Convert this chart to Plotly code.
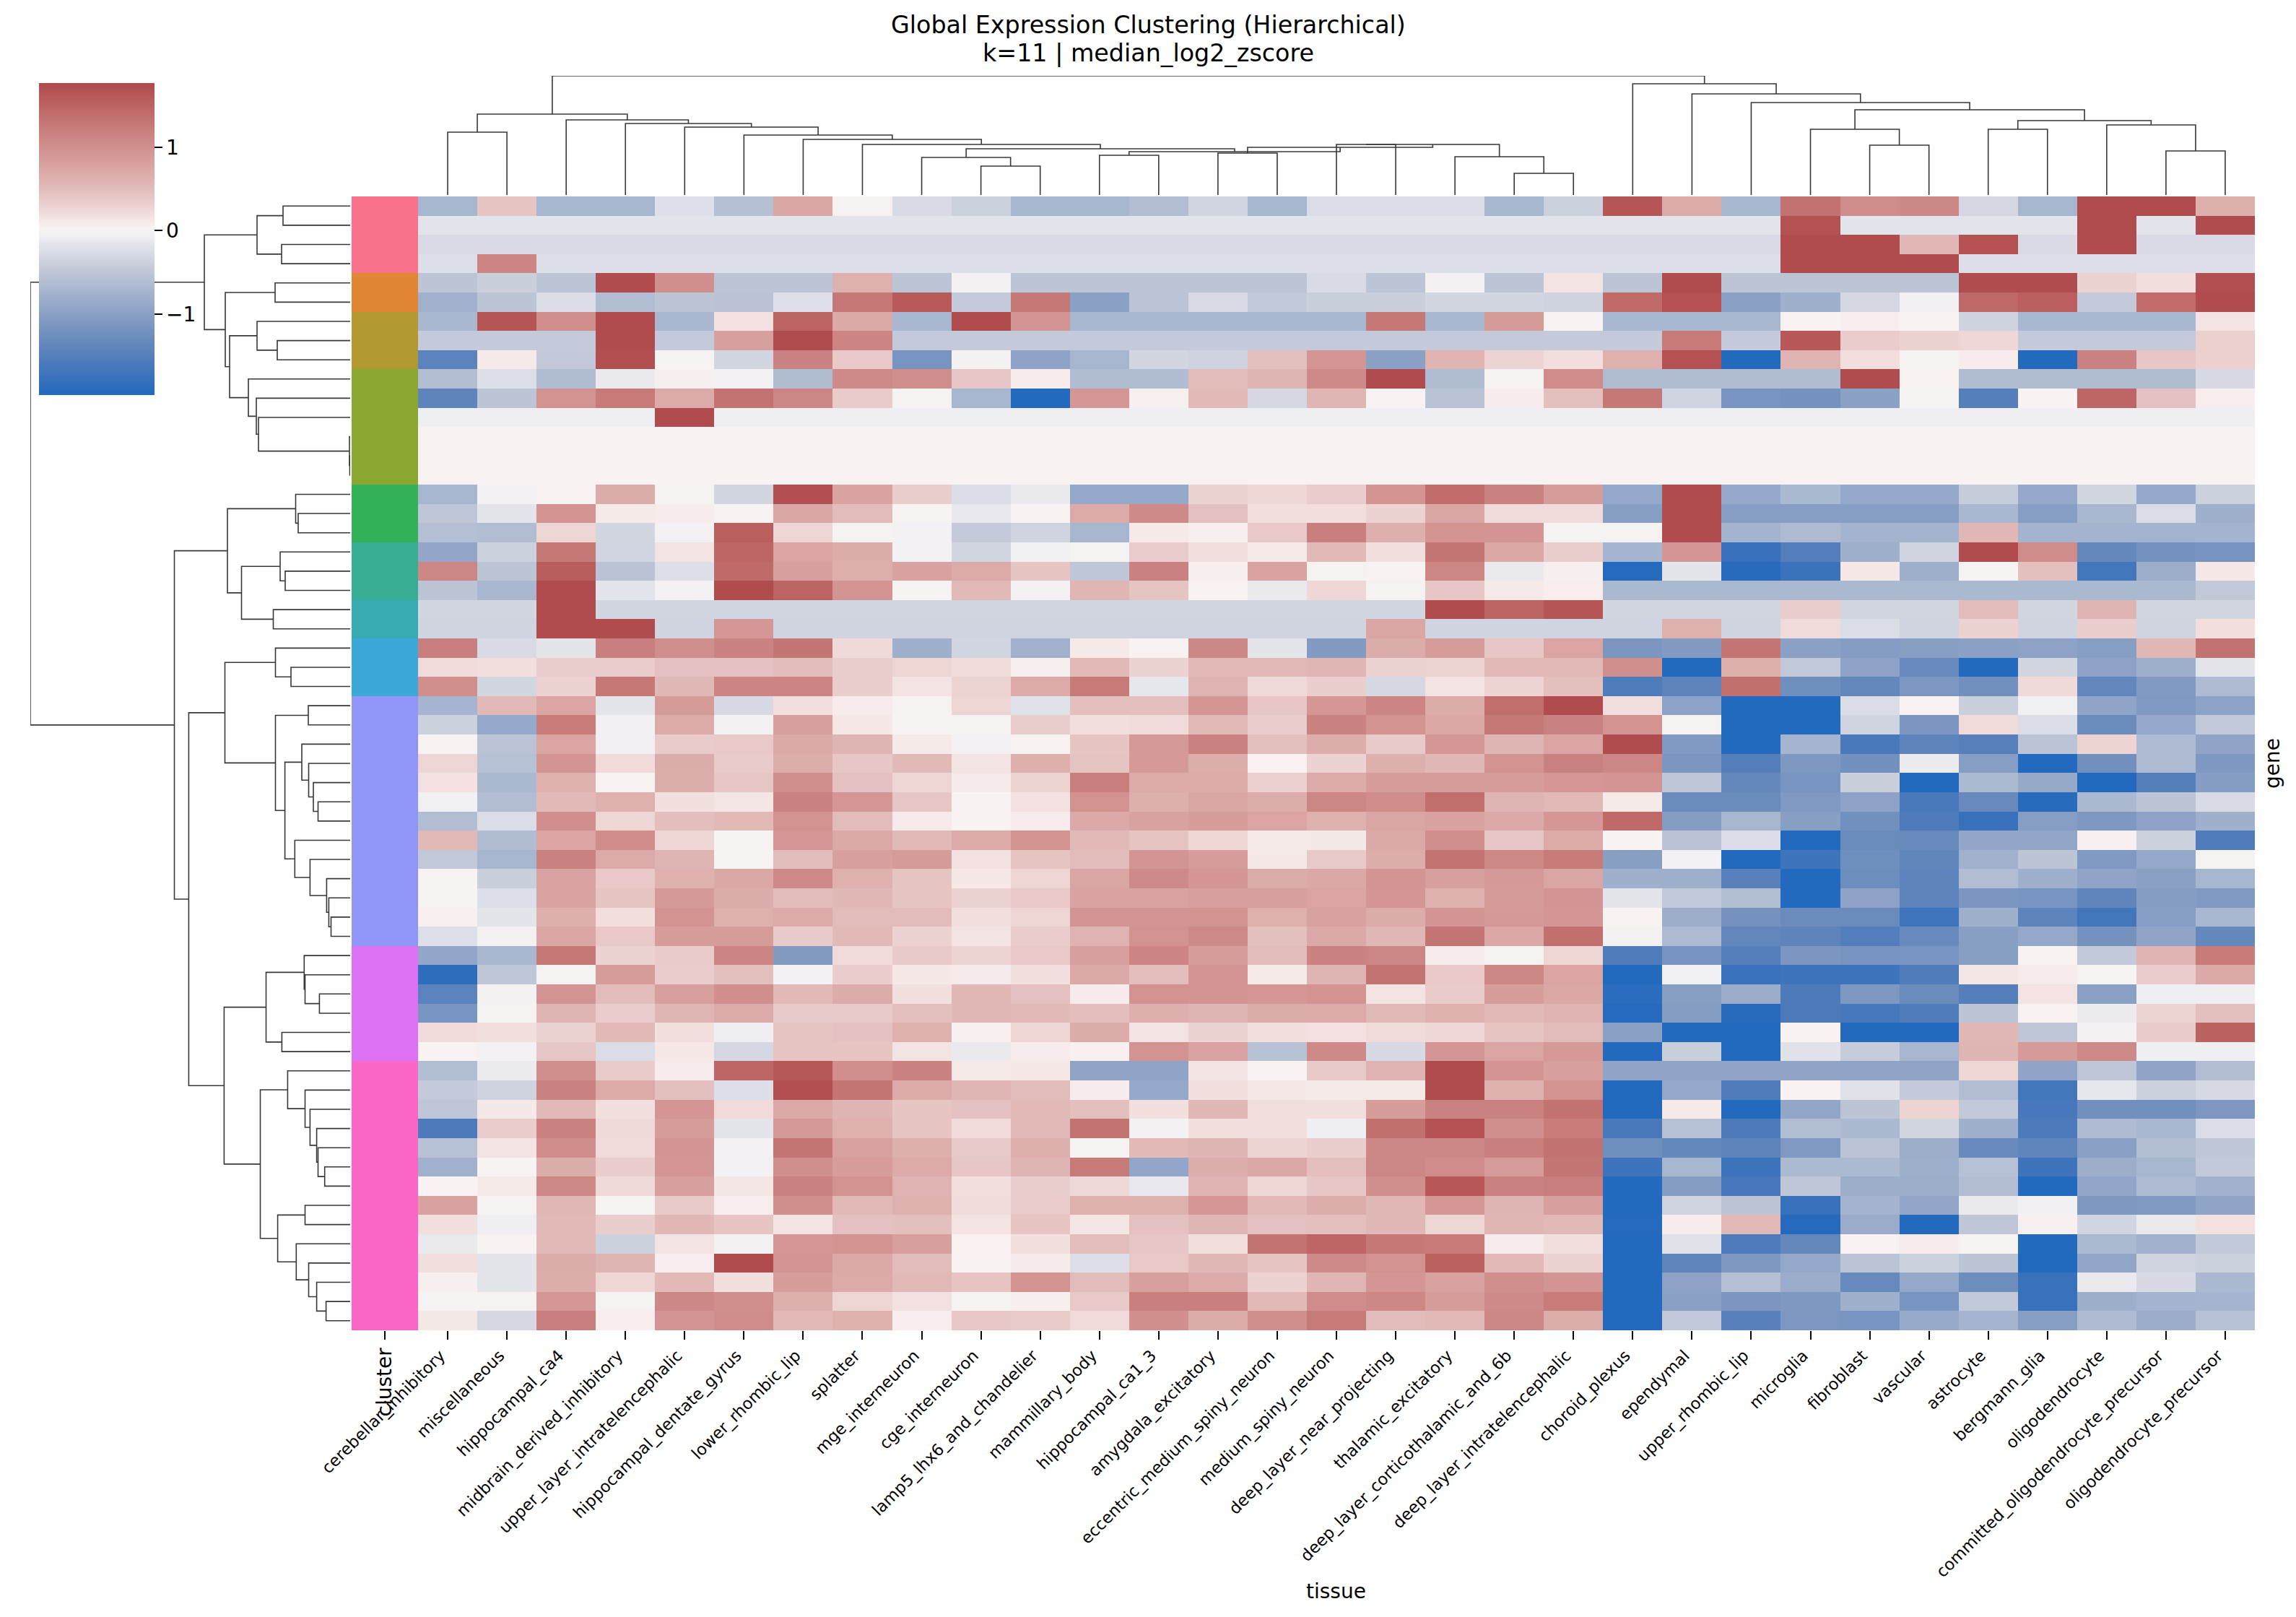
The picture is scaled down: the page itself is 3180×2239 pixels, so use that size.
import plotly.graph_objects as go

W, H = 3180, 2239

tissues = ["cerebellar_inhibitory", "miscellaneous", "hippocampal_ca4", "midbrain_derived_inhibitory",
           "upper_layer_intratelencephalic", "hippocampal_dentate_gyrus", "lower_rhombic_lip", "splatter",
           "mge_interneuron", "cge_interneuron", "lamp5_lhx6_and_chandelier", "mammillary_body",
           "hippocampal_ca1_3", "amygdala_excitatory", "eccentric_medium_spiny_neuron", "medium_spiny_neuron",
           "deep_layer_near_projecting", "thalamic_excitatory", "deep_layer_corticothalamic_and_6b",
           "deep_layer_intratelencephalic", "choroid_plexus", "ependymal", "upper_rhombic_lip", "microglia",
           "fibroblast", "vascular", "astrocyte", "bergmann_glia", "oligodendrocyte",
           "committed_oligodendrocyte_precursor", "oligodendrocyte_precursor"]

# Genes per cluster, top to bottom, and the colour of each cluster's strip
cluster_sizes = [4, 2, 3, 6, 3, 3, 2, 3, 13, 6, 14]
cluster_colors = ["#F9728C", "#E08531", "#B29831", "#8CA632", "#31B257", "#37AE93",
                  "#38ABB2", "#3BA8D8", "#8F96F5", "#DB72F3", "#F966C6"]

# Median log2 z-scores, one list per gene in dendrogram order
zscores = [
    [-.72, .42, -.72, -.72, -.22, -.58, .75, 0, -.27, -.38, -.72, -.72, -.62, -.33, -.72, -.25, -.25, -.25, -.72, -.38, 1.65, .7, -.72, 1.35, 1.05, 1.1, -.3, -.72, 1.75, 1.75, .65],
    [-.18] * 23 + [1.68] + [-.18] * 4 + [1.75, -.18, 1.75],
    [-.27] * 23 + [1.75, 1.75, .55, 1.68, -.27, 1.75, -.27, -.27],
    [-.23, 1.13] + [-.23] * 21 + [1.75, 1.75, 1.75] + [-.23] * 5,
    [-.52, -.4, -.52, 1.75, 1.0, -.52, -.52, .62, -.52, -.02, -.52, -.52, -.52, -.52, -.52, -.27, -.52, -.02, -.52, .15, -.52, 1.75, -.52, -.52, -.52, -.52, 1.75, 1.75, .3, .2, 1.72],
    [-.78, -.52, -.25, -.63, -.52, -.55, -.22, 1.27, 1.6, -.45, 1.27, -1.0, -.53, -.27, -.47, -.4, -.4, -.32, -.32, -.36, 1.42, 1.7, -1.0, -.8, -.3, -.04, 1.45, 1.55, -.45, 1.4, 1.75],
    [-.7, 1.65, 1.02, 1.75, -.7, .17, 1.5, .72, -.7, 1.75, .95, -.7, -.7, -.7, -.7, -.7, 1.27, -.7, .88, .03, -.7, -.7, -.7, .03, .07, .03, -.36, -.7, -.7, -.7, .15],
    [-.45, -.45, -.45, 1.75, -.45, .82, 1.75, 1.13, -.45, -.45] + [-.45] * 11 + [1.25, -.45, 1.63, .35, .3, .25, -.45, -.45, -.45, .32],
    [-1.45, .1, -.46, 1.72, .01, -.32, 1.15, .38, -1.17, -.02, -.97, -.72, -.32, -.37, .47, .93, -1.0, .6, .28, .2, .62, 1.7, -1.97, .6, .2, -.01, .08, -1.97, 1.17, .4, .32],
    [-.62, -.23, -.64, -.12, .06, -.03, -.64, 1.07, 1.02, .4, .08, -.64, -.64, .5, .58, 1.07, 1.75, -.64, 0, 1.05, -.64, -.64, -.64, -.64, 1.75, .03, -.64, -.64, -.64, -.64, -.28],
    [-1.42, -.52, .98, 1.25, .7, 1.33, 1.12, .36, 0, -.72, -1.97, .92, .05, .52, -.3, .57, .02, -.55, .08, .47, 1.27, -.35, -1.17, -1.2, -1.0, -.01, -1.5, .02, 1.47, .45, .07],
    [-.07] * 4 + [1.75] + [-.07] * 26,
    [.02] * 31,
    [.02] * 31,
    [.02] * 31,
    [-.72, -.03, .02, .68, -.01, -.32, 1.72, .78, .33, -.24, -.12, -.9, -.9, .3, .26, .35, .97, 1.4, 1.17, .87, -.9, 1.75, -.9, -.68, -.9, -.9, -.43, -.9, -.32, -.9, -.38],
    [-.5, -.17, .97, .1, .08, .02, .75, .5, .01, -.13, .02, .7, 1.07, .45, .2, .2, .3, .75, .22, .22, -1.02, 1.75, -1.03, -1.03, -1.03, -1.03, -.7, -1.03, -.7, -.25, -.8],
    [-.6, -.63, .27, -.32, -.03, 1.55, .27, -.01, -.03, -.45, -.35, -.72, .1, .06, .38, 1.2, .65, .97, .95, -.01, -.01, 1.75, -.75, -.66, -.75, -.75, .56, -.75, -.75, -.75, -.75],
    [-.93, -.38, 1.27, -.33, .15, 1.47, .77, .68, -.03, -.32, -.06, -.01, .35, .2, .1, .53, .2, 1.3, .73, .33, -.73, .93, -1.78, -1.52, -.8, -.34, 1.75, 1.05, -1.35, -1.2, -1.18],
    [1.1, -.52, 1.57, -.55, -.23, 1.42, .83, .66, .8, .7, .42, -.5, 1.17, .06, .78, -.01, .02, 1.12, -.12, .06, -1.95, -.17, -1.92, -1.75, .12, -.8, -.01, .47, -1.68, -.82, .12],
    [-.52, -.7, 1.75, -.18, -.03, 1.75, 1.5, .95, .01, .52, -.02, .57, .43, .03, -.12, .25, 0, .4, .1, .07] + [-.68] * 10 + [-.48],
    [-.32, -.32, 1.75] + [-.32] * 14 + [1.75, 1.5, 1.65] + [-.32] * 3 + [.33, -.32, -.32, .5, -.32, .58, -.32, -.32],
    [-.35, -.35, 1.75, 1.75, -.35, .92] + [-.35] * 10 + [.75] + [-.35] * 4 + [.62, -.35, .22, -.25, -.35, .3, -.35, .33, -.35, .2],
    [1.2, -.27, -.17, 1.2, 1.03, 1.15, 1.3, .23, -.8, -.33, -.78, .1, .03, 1.1, -.17, -1.07, .68, .87, .4, .77, -1.15, -1.07, 1.3, -1.0, -1.05, -1.02, -1.0, -.97, -1.03, .55, 1.35],
    [.22, .2, .33, .35, .45, .45, .5, .33, .27, .22, .06, .53, .3, .53, .53, .57, .3, .28, .52, .52, 1.02, -1.97, .65, -.48, -.97, -1.33, -1.97, -.32, -.97, -.8, -.17],
    [1.03, -.32, .3, 1.28, .55, 1.13, 1.13, .33, .15, .28, .7, 1.25, -.15, .6, .23, .33, -.3, .15, .28, .47, -1.55, -1.42, 1.37, -1.25, -1.35, -1.13, -1.23, .23, -1.37, -1.08, -.65],
    [-.73, .53, .77, -.17, .88, -.28, .2, .08, 0, .27, -.2, .47, .47, .93, .4, .92, 1.13, .68, 1.38, 1.75, .2, -.98, -1.97, -1.97, -.25, .02, -.4, -.06, -.95, -1.1, -.98],
    [-.38, -.9, 1.22, -.04, .7, -.02, .82, .12, .01, 0, .33, .2, .22, .52, .35, 1.15, .97, .73, 1.27, 1.17, .97, 0, -1.97, -1.97, -.35, -1.15, .22, -.25, -1.3, -.9, -.48],
    [.02, -.53, .77, -.04, .36, .38, .72, .58, .1, -.03, .03, .42, .9, 1.17, .47, .67, .37, .92, .58, .77, 1.75, -1.08, -1.97, -.73, -1.6, -1.42, -1.48, -.53, .28, -.65, -.95],
    [.27, -.57, .95, .22, .68, .36, .67, .4, .53, .16, .65, .43, .9, .67, .04, .3, .65, .55, .98, 1.18, 1.12, -1.15, -1.5, -1.12, -1.22, -.09, -1.03, -1.97, -1.23, -.65, -1.12],
    [.17, -.68, .63, .02, .67, .4, 1.02, .45, .26, .09, .28, 1.2, .7, .7, .32, .7, .87, .87, .85, .92, .95, -.5, -1.35, -1.17, -.4, -1.97, -.67, -.88, -1.97, -1.5, -1.05],
    [-.05, -.62, .53, .63, .18, .13, 1.15, .92, .4, .02, .17, .98, .65, .75, .67, 1.12, 1.05, 1.38, .58, .52, .1, -1.3, -1.3, -1.1, -.97, -1.6, -1.33, -1.93, -.68, -.52, -.27],
    [-.62, -.25, 1.03, .27, .48, .53, .98, .5, .09, .03, .08, .72, .8, .85, .77, .62, .75, .8, .72, .92, 1.43, -1.05, -.72, -1.02, -1.23, -1.57, -1.78, -1.03, -1.12, -.97, -.8],
    [.53, -.64, .77, 1.05, .26, .01, .92, .72, .53, .7, .97, .53, .43, .26, .1, .11, .72, 1.03, .4, .7, .02, -.55, -.24, -1.97, -1.3, -1.33, -.93, -.93, .05, -.38, -1.55],
    [-.48, -.72, 1.17, .7, .58, .01, .5, .82, .88, .17, .43, .5, .95, .87, .12, .37, .67, 1.33, 1.08, 1.25, -1.02, -.03, -1.97, -1.72, -1.25, -1.38, -.78, -.52, -1.1, -.9, -.01],
    [.01, -.4, .78, .38, .62, .73, 1.07, .62, .43, .12, .27, .75, 1.07, .93, .68, .73, .95, .82, .9, .75, -.8, -.8, -1.47, -1.97, -1.27, -1.42, -.62, -.8, -.95, -1.0, -.72],
    [.01, -.23, .78, .42, .9, .68, .5, .55, .42, .3, .38, .78, .78, .83, .82, .77, .93, .63, .88, .95, -.17, -.48, -.63, -1.97, -.97, -1.43, -1.15, -1.17, -1.4, -1.05, -1.1],
    [.05, -.17, .65, .2, .97, .63, .7, .5, .5, .2, .27, .95, .95, .97, .62, .8, .68, .95, .9, .93, .03, -.82, -1.2, -1.3, -1.3, -1.7, -.8, -1.42, -1.68, -1.03, -.7],
    [-.22, -.02, .75, .38, .85, .87, .37, .53, .3, .16, .35, .6, .98, 1.07, .47, .72, .55, 1.32, .73, 1.37, -.02, -.66, -1.37, -1.42, -1.52, -1.32, -1.02, -.9, -1.2, -.95, -1.35],
    [-.93, -.7, 1.28, .3, .36, 1.13, -1.07, .22, .37, .28, .38, .83, 1.13, .85, .5, 1.15, 1.12, .08, 0, .27, -1.55, -1.18, -1.5, -1.15, -1.18, -1.17, -1.02, .03, -.47, .6, 1.23],
    [-1.87, -.5, 0, .85, .35, .47, -.03, .34, .12, .09, .18, .72, .48, .95, .1, .58, 1.33, .38, 1.12, .77, -1.97, -.05, -1.77, -1.72, -1.72, -1.55, .13, .08, .01, .34, .72],
    [-1.45, -.02, .95, .5, .82, 1.0, .52, .68, .18, .55, .45, .09, .98, .97, .92, .97, .15, .36, .85, .73, -1.9, -1.02, -.85, -1.58, -1.12, -1.3, -1.5, .15, -1.0, -.07, -.07],
    [-1.17, -.01, .58, .35, .57, .7, .37, .37, .47, .55, .53, .48, .65, .58, .68, .7, .53, .63, .53, .6, -1.95, -1.05, -1.92, -1.58, -1.63, -1.55, -.52, .03, -.1, .28, .47],
    [.22, .18, .3, .52, .2, -.07, .42, .45, .63, .05, .27, .68, .15, .3, .2, .17, .22, .25, .43, .5, -1.0, -1.97, -1.97, .03, -1.97, -1.97, .55, -.5, -.02, .36, 1.52],
    [.03, -.03, .4, -.25, .12, -.3, .43, .42, .15, -.12, .08, .05, .97, .78, -.56, 1.07, -.28, .93, .77, .9, -1.97, -.4, -1.97, -.2, -.43, -.72, .58, .88, 1.07, -.07, -.07],
    [-.63, -.1, 1.03, .36, .08, 1.47, 1.62, 1.03, 1.15, .1, .12, -.95, -.95, .15, .03, .37, .6, 1.75, .95, .82, -.95, -.95, -.95, -.95, -.95, -.95, .26, -.95, -.5, -.95, -.62],
    [-.45, -.37, 1.15, .7, .47, -.23, 1.72, 1.3, .7, .57, .5, .08, -.9, .2, .12, .1, .1, 1.75, .62, .98, -1.97, -.9, -1.55, .02, -.2, -.45, -.62, -1.68, -.15, -.38, -.28],
    [-.5, .11, .53, .18, .93, .22, .72, .58, .42, .45, .53, .47, .18, .56, .2, .2, .85, 1.17, 1.17, 1.35, -1.97, .1, -1.97, -.93, -.52, .28, -.48, -1.62, -1.23, -1.23, -1.13],
    [-1.58, .35, 1.15, .23, .85, -.17, .9, .63, .42, .22, .52, 1.33, -.02, .18, .2, -.07, 1.37, 1.67, 1.03, 1.22, -1.6, -.57, -1.58, -.63, -.68, -.32, -.8, -1.58, -.65, -.72, -.25],
    [-.57, .15, 1.05, .22, .95, -.03, 1.3, .8, .65, .37, .65, .01, .52, .58, .28, .33, 1.1, 1.1, 1.2, 1.35, -1.25, -1.35, -1.43, -1.1, -.53, -.82, -1.32, -1.4, -1.0, -.63, -.5],
    [-.78, .01, .68, .33, .93, -.03, 1.03, .85, .7, .4, .58, 1.25, -.93, .67, .73, .47, 1.12, 1.05, .87, 1.3, -1.72, -.72, -1.72, -.67, -.67, -.8, -.57, -1.72, -.82, -.72, -.47],
    [.02, .1, 1.08, .23, .82, .13, 1.17, .98, .6, .2, .33, .24, -.13, .6, .26, .4, 1.03, 1.63, 1.17, 1.2, -1.97, -1.05, -1.62, -.5, -.82, -.82, -.62, -1.97, -.93, -.66, -.77],
    [.8, 0, .56, .01, .37, .07, 1.0, .53, .63, .22, .35, .62, .63, .92, .53, .67, .55, .92, .58, .83, -1.97, -.35, -.52, -1.78, -.75, -.93, -.12, -.04, -1.12, -1.1, -.95],
    [.18, -.07, .52, .33, .55, .42, .16, .45, .47, .15, .42, .13, .45, .57, .45, .47, .55, .26, .57, .53, -1.95, .08, .53, -1.95, -.85, -1.97, -.5, .05, -.33, -.12, .17],
    [-.12, .03, .53, -.38, .16, -.02, .92, .97, .82, .04, .18, .48, .4, .2, 1.33, 1.48, 1.28, 1.23, .08, .2, -1.97, -.2, -1.57, -1.35, .02, .08, 0, -1.97, -.67, -.78, -.47],
    [.19, -.17, .68, .58, .07, 1.75, .95, .72, .5, .03, .09, -.23, .38, .55, .42, 1.07, .98, 1.52, .53, .3, -1.97, -1.4, -1.12, -.9, -.53, -.38, -.52, -1.97, -.92, -.35, -.38],
    [.06, -.17, .67, .26, .53, .18, .85, .7, .53, .42, .97, .5, .82, .7, .3, .57, .93, .8, 1.03, .95, -1.97, -.97, -.6, -.83, -1.33, -.9, -1.27, -1.77, -.12, -.28, -.68],
    [-.01, 0, .92, -.01, 1.1, 1.03, .65, .27, .17, .01, .06, .38, 1.2, 1.2, .53, 1.05, 1.1, .85, 1.07, 1.22, -1.97, -1.0, -1.15, -1.12, -.8, -1.17, -.47, -1.77, -.82, -.75, -.73],
    [.11, -.3, 1.2, .07, .95, 1.05, .52, .62, .07, .39, .36, .22, 1.0, .68, 1.0, 1.25, .5, .53, 1.12, .67, -1.97, -.48, -1.47, -1.13, -1.17, -.87, -.73, -1.03, -.65, -.85, -.57],
]

# Linkage trees as (distance, left, right); integers are leaf positions
gene_tree = (4.43,
    (2.02,
        (1.29, (.93, 0, 1), (.95, 2, 3)),
        (1.73, (1.04, 4, 5),
            (1.67, (1.29, 6, (1.01, 7, 8)),
                (1.41, 9, (1.30, 10, (1.27, 11, (.01, 12, (.005, 13, 14)))))))),
    (2.435,
        (1.70, (.755, 15, (.72, 16, 17)),
            (1.505, (.97, 18, (.90, 19, 20)), (1.065, 21, 22))),
        (2.236,
            (1.735, (1.035, 23, (.82, 24, 25)),
                (1.035, (.58, 26, 27),
                    (.904, (.67, 28, (.575, 29, (.51, 30, (.445, 31, 32)))),
                        (.767, 33, (.556, 34, (.326, 35, (.296, 36, (.265, 37, 38)))))))),
            (1.746,
                (1.165, (.637, 39, (.625, 40, (.426, 41, 42))), (.946, 43, 44)),
                (1.245,
                    (.866, 45, (.625, 46, (.556, 47, (.464, 48, (.445, 49, (.353, 50, 51)))))),
                    (1.004, (.625, 52, 53),
                        (.747, 54, (.575, 55, (.464, 56, (.334, 57, 58))))))))))

tissue_tree = (1.65,
    (1.12, (.87, 0, 1),
        (1.04, 2, (.99, 3, (.94, 4,
            (.83, 5, (.77, 6, (.70, 7,
                (.64, (.52, 8, (.40, 9, 10)),
                    (.60, (.55, 11, 12),
                        (.66, (.58, 13, 14),
                            (.70, (.70, 15, 16), (.53, 17, (.30, 18, 19))))))))))))),
    (1.54, 20,
        (1.40, 21,
            (1.28, 22,
                (1.18,
                    (.91, 23, (.69, 24, 25)),
                    (1.03, (.91, 26, 27), (.97, 28, (.61, 29, 30))))))))

# Diverging palette stops: (z-score, colour)
palette = [(-1.97, "#2369BD"), (-1.6, "#4A79BB"), (-1.3, "#6A8BBC"), (-1.0, "#8AA0C5"), (-.72, "#A7B6CF"),
           (-.45, "#C4CAD9"), (-.25, "#DADDE6"), (-.05, "#F1F0F3"), (.02, "#F8F3F2"), (.1, "#F6EAE9"),
           (.27, "#EDD5D4"), (.5, "#E2BCBA"), (.75, "#DAA6A4"), (1.05, "#CF8C8A"), (1.35, "#C27270"),
           (1.6, "#B85A5A"), (1.77, "#B04A4C")]
zmin, zmax = palette[0][0], palette[-1][0]
colorscale = [[(v - zmin) / (zmax - zmin), c] for v, c in palette]

assert all(len(r) == len(tissues) for r in zscores) and len(zscores) == sum(cluster_sizes)

n_genes, n_tissues = len(zscores), len(tissues)
cluster_index = [[i] for i, n in enumerate(cluster_sizes) for _ in range(n)]


def tree_segments(node, xs, ys):
    """Walk a linkage tree; collect the bracket of each merge as (leaf axis, distance) points."""
    if isinstance(node, int):
        return node, 0.0
    dist, left, right = node
    lp, ld = tree_segments(left, xs, ys)
    rp, rd = tree_segments(right, xs, ys)
    xs.extend([lp, lp, rp, rp, None])
    ys.extend([ld, dist, dist, rd, None])
    return (lp + rp) / 2, dist


def px_x(a, b):
    return [a / W, b / W]


def px_y(top, bottom):
    return [1 - bottom / H, 1 - top / H]


def page_text(text, x, y, size, angle=0):
    return dict(text=text, x=x / W, y=1 - y / H, xref="paper", yref="paper", xanchor="center", yanchor="middle",
                textangle=angle, showarrow=False, font=dict(size=size, family="DejaVu Sans", color="black"))


HM_L, HM_R, HM_T, HM_B = 579, 3123, 272, 1842
STRIP_L = 487
LINE = dict(color="#383838", width=1.6)

fig = go.Figure()

fig.add_trace(go.Heatmap(
    z=zscores, x=list(range(n_tissues)), y=list(range(n_genes)), xaxis="x", yaxis="y",
    colorscale=colorscale, zmin=zmin, zmax=zmax, hoverongaps=False,
    colorbar=dict(x=54 / W, xanchor="left", y=1 - 115 / H, yanchor="top", xpad=0, ypad=0,
                  thicknessmode="pixels", thickness=160, lenmode="pixels", len=432,
                  outlinewidth=0, ticks="outside", ticklen=11, tickwidth=2, tickcolor="black",
                  tickvals=[-1, 0, 1], ticktext=["\u22121", "0", "1"],
                  tickfont=dict(family="DejaVu Sans", size=28, color="black")),
))

fig.add_trace(go.Heatmap(
    z=cluster_index, x=[0], y=list(range(n_genes)), xaxis="x2", yaxis="y2", showscale=False,
    zmin=-.5, zmax=len(cluster_colors) - .5,
    colorscale=[pair for i, c in enumerate(cluster_colors)
                for pair in ([i / len(cluster_colors), c], [(i + 1) / len(cluster_colors), c])],
))

gx, gy = [], []
tree_segments(gene_tree, gx, gy)
fig.add_trace(go.Scatter(x=gy, y=gx, xaxis="x3", yaxis="y3", mode="lines", line=LINE, hoverinfo="skip"))

tx, ty = [], []
tree_segments(tissue_tree, tx, ty)
fig.add_trace(go.Scatter(x=tx, y=ty, xaxis="x4", yaxis="y4", mode="lines", line=LINE, hoverinfo="skip"))

hidden = dict(visible=False, showgrid=False, zeroline=False)
tick_font = dict(family="DejaVu Sans", size=22.5, color="black")
row_range = [n_genes - .5, -.5]
col_range = [-.5, n_tissues - .5]

fig.update_layout(
    width=W, height=H, margin=dict(l=0, r=0, t=0, b=0, autoexpand=False),
    paper_bgcolor="white", plot_bgcolor="white",
    showlegend=False, font=dict(family="DejaVu Sans", color="black"),
    xaxis=dict(domain=px_x(HM_L, HM_R), range=col_range, tickmode="array", tickvals=list(range(n_tissues)),
               ticktext=tissues, tickangle=-45, ticks="outside", ticklen=12, tickwidth=2, tickcolor="black",
               tickfont=tick_font, ticklabelshift=-10, showgrid=False, zeroline=False, anchor="y"),
    yaxis=dict(domain=px_y(HM_T, HM_B), range=row_range, **hidden, anchor="x"),
    xaxis2=dict(domain=px_x(STRIP_L, HM_L), range=[-.5, .5], tickmode="array", tickvals=[0], ticktext=["cluster"],
                tickangle=-90, ticks="outside", ticklen=12, tickwidth=2, tickcolor="black",
                tickfont=dict(family="DejaVu Sans", size=28, color="black"),
                showgrid=False, zeroline=False, anchor="y2"),
    yaxis2=dict(domain=px_y(HM_T, HM_B), range=row_range, **hidden, anchor="x2"),
    xaxis3=dict(domain=px_x(42, 485), range=[gene_tree[0], 0], **hidden, anchor="y3"),
    yaxis3=dict(domain=px_y(HM_T, HM_B), range=row_range, **hidden, anchor="x3"),
    xaxis4=dict(domain=px_x(HM_L, HM_R), range=col_range, **hidden, anchor="y4"),
    yaxis4=dict(domain=px_y(105, 270), range=[0, tissue_tree[0]], **hidden, anchor="x4"),
    annotations=[
        page_text("Global Expression Clustering (Hierarchical)", 1590, 34, 33.3),
        page_text("k=11 | median_log2_zscore", 1590, 73, 33.3),
        page_text("tissue", 1850, 2203, 28),
        page_text("gene", 3147, 1057, 28, angle=-90),
    ],
)

fig.write_html("out.html")
